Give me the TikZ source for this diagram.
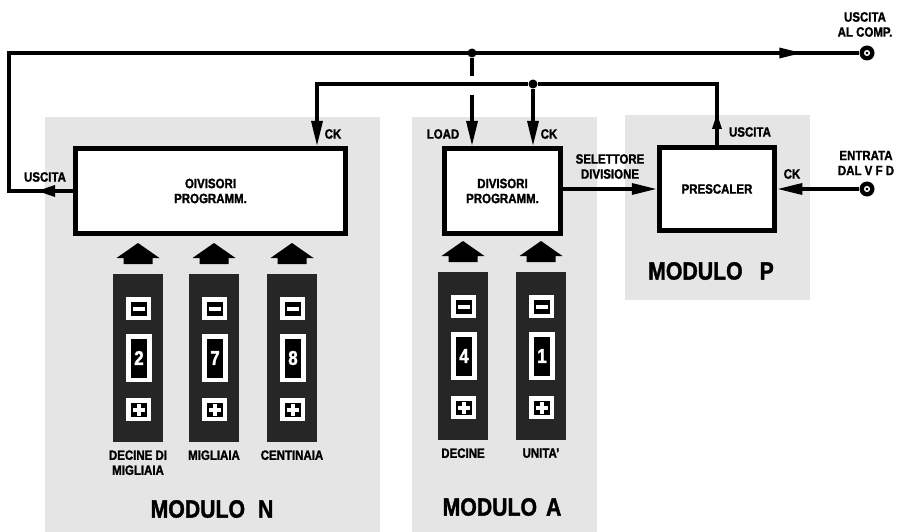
\documentclass[tikz,border=0pt]{standalone}
\usepackage{fontspec}
\setmainfont{Liberation Sans}[FakeStretch=0.85, BoldFeatures={FakeBold=1.5}]
\usetikzlibrary{arrows.meta, positioning, calc, decorations.markings}

\begin{document}
\begin{tikzpicture}[x=1pt, y=-1pt,
    modbg/.style={fill=black!10},
    block/.style={draw, line width=5pt, fill=white, align=center, inner sep=0pt,
                  font=\bfseries\fontsize{13.5}{15}\selectfont},
    wire/.style={line width=3.2pt},
    tip/.style={-{Triangle[length=25pt, width=11pt]}},
    lbl/.style={font=\bfseries\fontsize{13.5}{15}\selectfont, align=center, inner sep=0pt},
    modlbl/.style={font=\bfseries\fontsize{25}{27}\selectfont, inner sep=0pt},
    dot/.style={circle, fill, inner sep=0pt, minimum size=9pt},
    term/.style={circle, fill, inner sep=0pt, minimum size=15pt},
    swcol/.style={fill=black!85, inner sep=0pt, minimum width=50pt, minimum height=168pt},
    swkey/.style={draw=white, fill=black, line width=4.5pt, inner sep=0pt,
                  minimum width=20.5pt, minimum height=18.5pt},
    swwin/.style={draw=white, fill=black, line width=4.5pt, inner sep=0pt,
                  minimum width=21pt, minimum height=43.5pt, text=white,
                  font=\bfseries\fontsize{20}{20}\selectfont}]
  \useasboundingbox (0,0) rectangle (900,532);

  % moduli
  \fill[modbg] (45,117) rectangle (380,532);
  \fill[modbg] (412,117) rectangle (597,532);
  \fill[modbg] (625,115) rectangle (810,300);

  \node[block, minimum width=270pt, minimum height=85pt] (divN) at (210.5,191) {OIVISORI\\PROGRAMM.};
  \node[block, minimum width=116.5pt, minimum height=85pt] (divA) at (502.5,191) {DIVISORI\\PROGRAMM.};
  \node[block, minimum width=115.5pt, minimum height=83pt] (presc) at (717,189) {PRESCALER};

  \node[dot] (jtop) at (472,53) {};
  \node[dot] (jck) at (533,84) {};
  \node[term] (outc) at (867,53) {};
  \node[term] (inc) at (867,189) {};
  \coordinate (corner) at (9,53);
  \coordinate (ckn) at ([xshift=-31pt]divN.north east);

  % collegamenti
  \draw[wire, decoration={markings,
        mark=at position 36pt with {\arrow{Triangle[length=18pt, width=11pt]}},
        mark=at position -57pt with {\arrow{Triangle[length=23pt, width=10pt]}}},
        postaction={decorate}]
    (divN.west) -| (corner) -- (outc);
  \draw[wire, tip, decoration={markings,
        mark=at position 32pt with {\arrow{Triangle[length=16pt, width=9pt]}}},
        postaction={decorate}]
    (presc.north) |- (jck) -| (ckn);
  \draw[wire, tip] (jck) -- (jck |- divA.north);
  \draw[wire] (jtop) -- ([yshift=-23pt]jtop.center);
  \draw[wire, tip] ([yshift=-42pt]jtop.center) -- (jtop |- divA.north);
  \draw[wire, tip] (divA.east |- presc.west) -- (presc.west);
  \draw[wire, tip] (inc) -- (presc.east);
  \draw[white, line width=1.4pt] (outc) circle (2.3pt);
  \draw[white, line width=1.4pt] (inc) circle (2.3pt);

  \node[lbl] at (45,177) {USCITA};
  \node[lbl] at (333,134) {CK};
  \node[lbl] at (443,134) {LOAD};
  \node[lbl] at (549,134) {CK};
  \node[lbl] at (750,132) {USCITA};
  \node[lbl] at (610,166.5) {SELETTORE\\DIVISIONE};
  \node[lbl] at (792,174) {CK};
  \node[lbl] at (866,163) {ENTRATA\\DAL V F D};
  \node[lbl] at (865,24.5) {USCITA\\AL COMP.};

  % commutatori
  \foreach \nm/\cx/\ty/\dg in {dm/138/274/2, mi/214/274/7, ce/292/274/8, de/463/272/4, un/541/272/1} {
    \fill (\cx-21.5,\ty-16) -- (\cx,\ty-31) -- (\cx+21.5,\ty-16) -- (\cx+14.5,\ty-16)
      -- (\cx+14.5,\ty-10) -- (\cx-14.5,\ty-10) -- (\cx-14.5,\ty-16) -- cycle;
    \node[swcol] (col\nm) at (\cx,\ty+84) {};
    \node[swkey] (dn\nm) at (\cx+0.5,\ty+34.5) {};
    \node[swwin] (win\nm) at (\cx+1,\ty+84) {\dg};
    \node[swkey] (up\nm) at (\cx+0.5,\ty+135.5) {};
    \fill[white] (dn\nm) ++(-6,-2) rectangle ++(12,4);
    \fill[white] (up\nm) ++(-6,-2) rectangle ++(12,4);
    \fill[white] (up\nm) ++(-2,-6) rectangle ++(4,12);
  }

  \node[lbl, below=8pt of coldm] {DECINE DI\\MIGLIAIA};
  \node[lbl, below=8pt of colmi] {MIGLIAIA};
  \node[lbl, below=8pt of colce] {CENTINAIA};
  \node[lbl, below=8pt of colde] {DECINE};
  \node[lbl, below=8pt of colun] {UNITA'};

  \node[modlbl] at (212,509) {MODULO\hspace{13pt}N};
  \node[modlbl] at (502,507) {MODULO\hspace{9pt}A};
  \node[modlbl] at (711,271) {MODULO\hspace{17pt}P};
\end{tikzpicture}
\end{document}
